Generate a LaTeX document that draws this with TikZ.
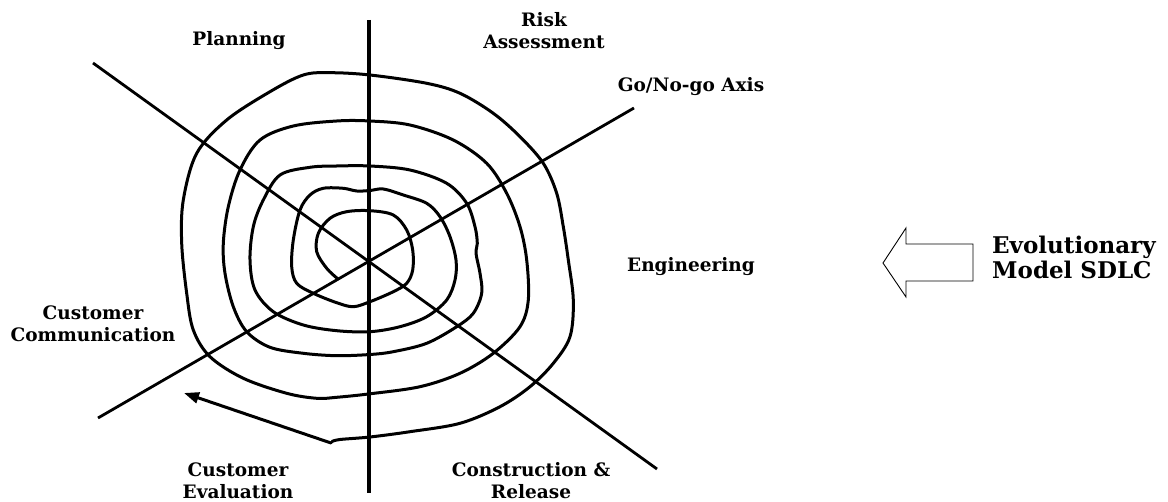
\documentclass[tikz,border=0pt]{standalone}
\usepackage{fontspec}
\setmainfont{DejaVu Serif}
\usetikzlibrary{arrows.meta}
\begin{document}
\begin{tikzpicture}[x=1pt,y=-1pt,
  axis/.style={line width=2.8pt},
  coil/.style={line width=3pt, line join=round, line cap=round},
  lbl/.style={font=\bfseries\fontsize{18.5}{22}\selectfont, align=center, inner sep=0pt},
  title/.style={font=\bfseries\fontsize{23}{25}\selectfont, align=left, inner sep=0pt, anchor=west},
  hollow/.style={line width=0.9pt, line join=miter}]
\useasboundingbox (0,0) rectangle (1168,502);

% axes through the centre
\coordinate (c) at (369,262);
\coordinate (vtop) at (369,20);
\coordinate (vbot) at (369,493);
\coordinate (nw) at (93,63);
\coordinate (se) at (657,469);
\coordinate (ne) at (634,108);
\coordinate (sw) at (98,418);
\draw[axis, line width=3.2pt] (vtop) -- (vbot);
\draw[axis] (nw) -- (se);
\draw[axis] (sw) -- (ne);

% the growing spiral
\draw[coil] plot[smooth, tension=0.55] coordinates {
  (338,279) (326.7,268.3) (316.7,251.7) (318.3,233.3) (330,218.3) (346.7,211.7)
  (370,210.7) (393.3,215) (406.7,230) (412.7,250) (412.7,270) (406.7,283.3)
  (393.3,291.7) (370,301.7) (353.3,306.7) (336.7,302.7) (313.3,293.3)
  (296.7,283.3) (291.7,266.7) (293.3,240) (300,210) (310,195) (323.3,188.3)
  (343.3,188.3) (356.7,191) (370,190.5) (383.3,189) (403.3,195) (426.7,203.3)
  (440,216.7) (450,236.7) (456,260) (455,280) (446.7,300) (426.7,316.7)
  (400,326.7) (370,331.7) (336.7,330.7) (303.3,325) (273.3,311.7) (255,290)
  (250,260) (253.3,226.7) (263.3,200) (280,175) (310,167.3) (336.7,166)
  (370,166) (410,170) (446.7,183.3) (466.7,203.3) (475,226.7) (477.3,243.3)
  (476,253.3) (480,273.3) (481.7,293.3) (473.3,313.3) (456.7,326.7)
  (426.7,343.3) (393.3,351.7) (370,354.5) (336.7,355.7) (303.3,353.3)
  (270,347.3) (246.7,331.7) (233.3,306.7) (225,273.3) (223.3,243.3)
  (228.3,206.7) (240,170) (260,140) (293.3,126) (336.7,121) (370,121)
  (410,125) (453.3,140) (486.7,163.3) (506.7,193.3) (520,226.7) (526.7,260)
  (528.3,300) (520,326.7) (493.3,353.3) (460,373.3) (420,386.7) (370,393.8)
  (336.7,397.3) (316.7,398.3) (286.7,393.3) (243.3,378.3) (210,356.7)
  (193.3,330) (186.7,293.3) (181.7,243.3) (183.3,200) (196.7,153.3)
  (226.7,120) (270,91.7) (303.3,75) (330,72.7) (370,75) (426.7,83.3)
  (460,93.3) (493.3,113.3) (520,136.7) (543.3,163.3) (556.7,193.3)
  (563.3,226.7) (568.3,260) (573.3,300) (570,336.7) (553.3,363.3)
  (530,386.7) (500,406.7) (460,423.3) (410,431.7) (370,437) (340,439.5)
  (332,441.5)};

% return arrow at the end of the spiral
\coordinate (turn) at (331,443);
\coordinate (back) at (184,393);
\draw[coil, -{Triangle[length=15pt,width=11pt]}] (turn) -- (back);

% phase labels
\node[lbl] (plan) at (239,41) {Planning};
\node[lbl] (risk) at (544,31) {Risk\\Assessment};
\node[lbl] (gonogo) at (691,87) {Go/No-go Axis};
\node[lbl] (eng) at (691,267) {Engineering};
\node[lbl] (comm) at (93,324) {Customer\\Communication};
\node[lbl] (eval) at (238,481) {Customer\\Evaluation};
\node[lbl] (constr) at (531,481) {Construction \&\\Release};

% hollow pointer and model name
\draw[hollow] (883,263) -- (906,228) -- (906,244) -- (973,244)
  -- (973,281) -- (906,281) -- (906,297) -- cycle;
\node[title] (model) at (992,257.5) {Evolutionary\\Model SDLC};
\end{tikzpicture}
\end{document}
